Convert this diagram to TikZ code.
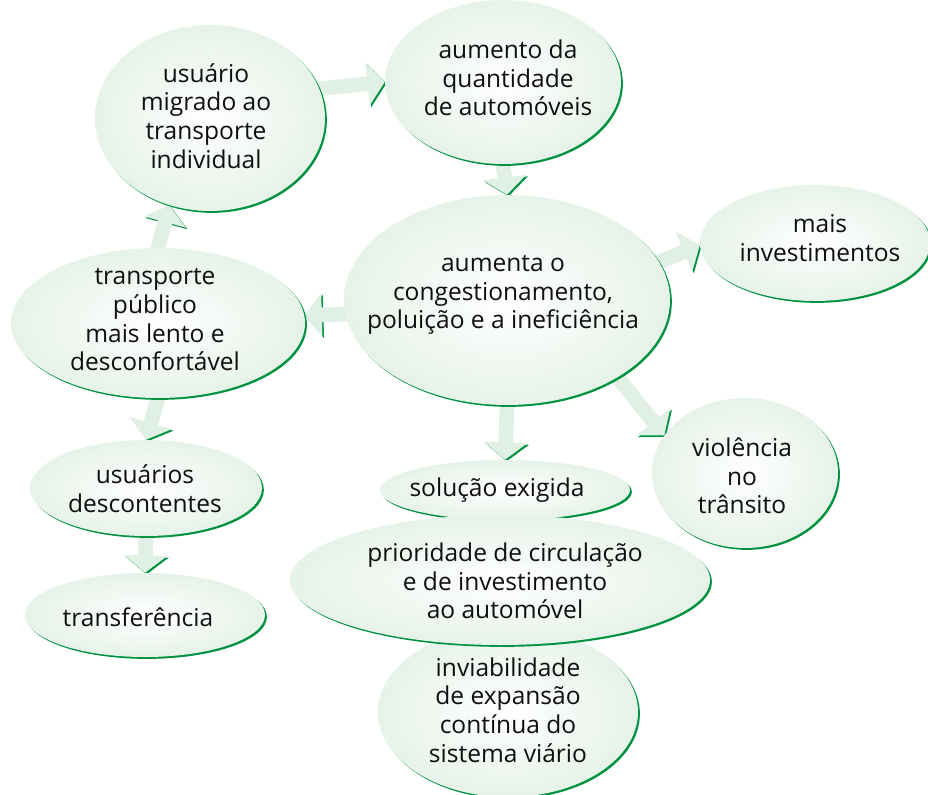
\documentclass[tikz,border=0pt]{standalone}
\usepackage{fontspec}
\setmainfont{Open Sans}
\usetikzlibrary{positioning,arrows.meta,shapes.geometric,shadows,backgrounds}

\definecolor{bubblegreen}{RGB}{206,231,211}
\definecolor{arrowgreen}{RGB}{224,240,228}
\definecolor{edgegreen}{RGB}{0,146,63}
\definecolor{inkgray}{RGB}{15,15,15}
\pgfdeclareradialshading{bubbleshade}{\pgfpoint{0bp}{0bp}}{color(0bp)=(white); color(22bp)=(white!55!bubblegreen); color(50bp)=(bubblegreen)}

\tikzset{
  bubble/.style={ellipse, inner sep=0pt, shading=bubbleshade,
    drop shadow={shadow xshift=1.4pt, shadow yshift=-1.4pt, fill=edgegreen, opacity=1}},
  caption/.style={align=center, text=inkgray, font=\fontsize{18.4}{21.5}\selectfont},
  flow/.style={draw=arrowgreen, line width=11pt, -{Triangle[width=32pt,length=13pt]}, shorten <=-10pt,
    preaction={draw=edgegreen, transform canvas={xshift=1.2pt,yshift=-1.2pt}}},
}

\begin{document}
\begin{tikzpicture}[x=0.75pt,y=0.75pt,yscale=-1,xscale=1]
\useasboundingbox (0,0) rectangle (928,795);

%Shape: bubbles
\node[bubble, minimum width=172.5pt, minimum height=139.5pt] (migrado) at (210,118) {};
\node[bubble, minimum width=177pt, minimum height=123pt] (aumento) at (503,82) {};
\node[bubble, minimum width=172.5pt, minimum height=87pt] (invest) at (815,243) {};
\node[bubble, minimum width=244.5pt, minimum height=157.5pt] (congest) at (507,300) {};
\node[bubble, minimum width=220.5pt, minimum height=112.5pt] (publico) at (158,323) {};
\node[bubble, minimum width=139.5pt, minimum height=112.5pt] (violencia) at (745,473) {};
\node[bubble, minimum width=174pt, minimum height=72pt] (descont) at (146,488) {};
\node[bubble, minimum width=180pt, minimum height=63pt] (transf) at (145,615) {};
\node[bubble, minimum width=187.5pt, minimum height=45pt] (solucao) at (505,490) {};
\node[bubble, minimum width=195pt, minimum height=127.5pt] (inviab) at (508,712) {};
\node[bubble, minimum width=315pt, minimum height=97.5pt] (prioridade) at (500,580) {};

%Arrows, behind the bubbles
\begin{scope}[on background layer]
\draw[flow] (migrado.15) -- (aumento.180);
\draw[flow] (aumento.south) -- (congest.north);
\draw[flow] (congest.14) -- (invest.181);
\draw[flow] (congest.185) -- (publico.3);
\draw[flow] (congest.-35) -- (violencia.155);
\draw[flow] (congest.south) -- (solucao.north);
\draw[flow] (publico.north) -- (migrado.-115);
\draw[flow] (publico.south) -- (descont.north);
\draw[flow] (descont.south) -- (transf.north);
\end{scope}

% Text Node
\node[caption] (tmigrado) at (206,116) {usuário\\migrado ao\\transporte\\individual};
% Text Node
\node[caption] (taumento) at (508,78) {aumento da\\quantidade\\de automóveis};
% Text Node
\node[caption] (tinvest) at (820,238) {mais\\investimentos};
% Text Node
\node[caption] (tcongest) at (503,295) {aumenta o\\congestionamento,\\poluição e a ineficiência};
% Text Node
\node[caption] (tpublico) at (155,320) {transporte\\público\\mais lento e\\desconfortável};
% Text Node
\node[caption] (tviolencia) at (742,476) {violência\\no\\trânsito};
% Text Node
\node[caption] (tdescont) at (145,489) {usuários\\descontentes};
% Text Node
\node[caption] (ttransf) at (138,617) {transferência};
% Text Node
\node[caption] (tsolucao) at (497,490) {solução exigida};
% Text Node
\node[caption] (tprioridade) at (505,581) {prioridade de circulação\\e de investimento\\ao automóvel};
% Text Node
\node[caption] (tinviab) at (508,710) {inviabilidade\\de expansão\\contínua do\\sistema viário};

\end{tikzpicture}
\end{document}
